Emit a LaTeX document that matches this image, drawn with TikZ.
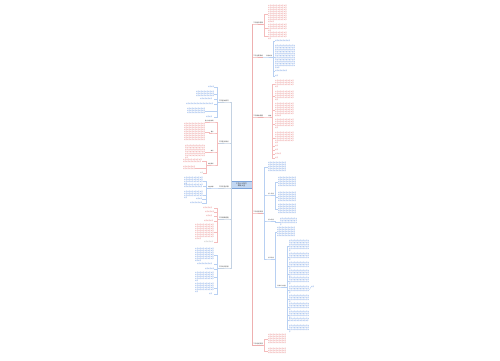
\documentclass[tikz,border=0pt]{standalone}
\usepackage{fontspec}
\setmainfont{Noto Sans CJK SC}
\XeTeXlinebreaklocale "zh"
\XeTeXlinebreakskip=0pt plus 0.5pt
\ExplSyntaxOn
\cs_new_eq:NN \myrep \prg_replicate:nn
\ExplSyntaxOff
\definecolor{txr}{HTML}{E06060}
\definecolor{txb}{HTML}{3C78D8}
\definecolor{txg}{HTML}{9A9A9A}
\definecolor{labc}{HTML}{3A3A3A}
\definecolor{lnr}{HTML}{F4BCBC}
\definecolor{lnb}{HTML}{B8D0F2}
\definecolor{trR}{HTML}{EEB0B0}
\definecolor{trL}{HTML}{C4D2E2}
\definecolor{cfill}{HTML}{C2D7F2}
\definecolor{cdraw}{HTML}{7BA3DA}
\tikzset{
  tb/.style={inner sep=0pt, anchor=north west, align=left, font=\fontsize{1.5}{2.0}\selectfont},
  rt/.style={text=txr}, bt/.style={text=txb}, gt/.style={text=txg},
  lab/.style={inner sep=0.2pt, font=\fontsize{1.6}{1.9}\selectfont, text=labc},
  slab/.style={inner sep=0.2pt, font=\fontsize{1.4}{1.7}\selectfont, text=labc},
  rl/.style={draw=lnr, line width=0.35pt},
  bl/.style={draw=lnb, line width=0.35pt},
  trr/.style={draw=trR, line width=0.45pt},
  trl/.style={draw=trL, line width=0.45pt},
  ctr/.style={draw=cdraw, fill=cfill, line width=0.3pt, minimum width=21pt, minimum height=7pt, inner sep=0.3pt, align=center, font=\fontsize{1.8}{2.2}\selectfont, text=labc}
}
\newcommand\tblk[6]{\node[tb,#6,text width=#4pt] (#1) at (#2,#3) {\myrep{(#4*#5-1)/3}{文字}};}
\newcommand\conR[3]{\draw[#1] (#2.south east) -- ++(1,0) |- (#3.west);}
\newcommand\conL[3]{\draw[#1] (#2.south west) -- ++(-1,0) |- (#3.east);}
\newcommand\conRL[3]{\draw[#1] (#2.south east) -- ++(1,0) |- (#3.south west) -- (#3.south east);}
\newcommand\conLL[3]{\draw[#1] (#2.south west) -- ++(-1,0) |- (#3.south east) -- (#3.south west);}
\begin{document}
\begin{tikzpicture}[x=1pt,y=-1pt]
\fill[white] (0,0) rectangle (500,360);
\path[use as bounding box] (0,0) rectangle (500,360);
% centre
\node[ctr] (c) at (241.5,184.5) {工作计划范文\\模板大全};
% right first-level labels
\node[lab,anchor=south west] (R1) at (253,24) {工作指导思想};
\node[lab,anchor=south west] (R2) at (253,57) {工作主要目标};
\node[lab,anchor=south west] (R3) at (253,117) {工作具体措施};
\node[lab,anchor=south west] (R4) at (253,213) {工作内容安排};
\node[lab,anchor=south west] (R5) at (253,345) {工作总结反思};
% left first-level labels
\node[lab,anchor=south east] (L1) at (229,102) {工作基本情况};
\node[lab,anchor=south east] (L2) at (229,143) {工作重点难点};
\node[lab,anchor=south east] (L3) at (229,188) {工作实施步骤};
\node[lab,anchor=south east] (L4) at (229,219) {工作保障措施};
\node[lab,anchor=south east] (L5) at (229,268) {工作时间安排};
% R1
\tblk{r1a}{268}{5}{19}{8}{rt}
\tblk{r1b}{268}{24}{19}{3}{rt}
\tblk{r1c}{268}{32}{19}{3}{rt}
% R2
\node[slab,anchor=south west] (R2a) at (266,57) {目标说明};
\tblk{r2a}{275}{40}{16}{1}{bt}
\tblk{r2b}{275}{45}{20}{11}{bt}
\tblk{r2c}{275}{70}{12}{1}{bt}
\tblk{r2d}{275}{75}{3}{1}{bt}
% R3
\node[slab,anchor=south west] (R3a) at (268,117) {措施};
\tblk{r3a}{275}{80}{19}{3}{rt}
\tblk{r3b}{275}{91}{19}{4}{rt}
\tblk{r3c}{275}{103}{19}{6}{rt}
\tblk{r3d}{275}{119}{19}{4}{rt}
\tblk{r3e}{275}{132}{19}{5}{rt}
\tblk{r3f}{275}{145}{4}{1}{rt}
\tblk{r3g}{275}{149}{4}{1}{rt}
\tblk{r3h}{275}{153}{6}{1}{rt}
\tblk{r3i}{275}{157}{4}{1}{rt}
% R4
\tblk{r4a}{268}{162}{18}{5}{bt}
\node[slab,anchor=south west] (S1) at (268,195) {第一阶段};
\tblk{s1a}{278}{177}{18}{5}{bt}
\tblk{s1b}{278}{192}{18}{5}{bt}
\tblk{s1c}{278}{204}{18}{5}{bt}
\node[slab,anchor=south west] (S2) at (268,221) {第二阶段};
\tblk{s2a}{280}{218}{17}{3}{bt}
\node[slab,anchor=south west] (S3) at (268,259) {第三阶段};
\tblk{s3b}{277}{227}{18}{5}{bt}
\node[slab,anchor=south west] (S4) at (277,287) {具体工作内容};
\tblk{s4a}{289}{240}{20}{5}{bt}
\tblk{s4b}{289}{253}{20}{3}{bt}
\tblk{s4c}{289}{262}{20}{3}{bt}
\tblk{s4d}{289}{270}{20}{3}{bt}
\tblk{s4e}{289}{277}{20}{3}{bt}
\tblk{s4f}{289}{286}{20}{3}{bt}
\tblk{s4g}{289}{295}{20}{3}{bt}
\tblk{s4h}{289}{303}{20}{3}{bt}
\tblk{s4i}{289}{311}{20}{3}{bt}
\tblk{s4j}{289}{318}{20}{2}{bt}
\tblk{s4k}{289}{325}{20}{3}{bt}
\tblk{s4x}{311}{286}{5}{1}{bt}
% R5
\tblk{r5a}{268}{334}{18}{5}{rt}
\tblk{r5b}{268}{348}{18}{3}{rt}
% L1
\tblk{l1a}{208}{86}{6}{1}{bt}
\tblk{l1b}{196}{91}{18}{3}{bt}
\tblk{l1c}{200}{98}{14}{1}{bt}
\tblk{l1d}{186}{103}{28}{1}{bt}
\tblk{l1e}{187}{108}{18}{3}{bt}
\tblk{l1f}{206}{116}{8}{1}{bt}
% L2
\node[slab,anchor=south east] (La) at (214,122) {重点内容说明};
\node[slab,anchor=south east] (Lb) at (214,133) {重点};
\node[slab,anchor=south east] (Lc) at (214,152) {难点};
\node[slab,anchor=south east] (Ld) at (214,165) {其他事项};
\tblk{l2b}{184}{123}{21}{9}{rt}
\tblk{l2c}{185}{145}{20}{6}{rt}
\tblk{l2d}{183}{159}{19}{2}{rt}
\tblk{l2e}{183}{166}{12}{2}{rt}
\tblk{l2f}{200}{172}{3}{1}{gt}
% L3
\node[slab,anchor=south east] (L3a) at (214,188) {实施步骤};
\tblk{l3a}{184}{177}{19}{3}{bt}
\tblk{l3b}{184}{184}{19}{2}{bt}
\tblk{l3c}{184}{191}{19}{3}{bt}
\tblk{l3d}{196}{198}{6}{1}{bt}
\tblk{l3e}{190}{202}{12}{1}{bt}
% L4
\tblk{l4a}{203}{207}{11}{1}{rt}
\tblk{l4b}{205}{211}{9}{1}{rt}
\tblk{l4c}{206}{215}{8}{1}{rt}
\tblk{l4d}{204}{220}{10}{1}{rt}
\tblk{l4e}{195}{224}{19}{7}{rt}
\tblk{l4f}{204}{241}{10}{1}{gt}
% L5
\tblk{l5a}{195}{248}{19}{6}{bt}
\tblk{l5b}{197}{263}{17}{1}{bt}
\tblk{l5c}{205}{268}{9}{1}{bt}
\tblk{l5d}{195}{272}{19}{4}{bt}
\tblk{l5e}{195}{283}{19}{4}{bt}
\tblk{l5f}{209}{293}{5}{1}{bt}
% ---------- connectors ----------
\foreach \n in {R1,R2,R3,R4,R5}{\draw[trr] (c.east) |- (\n.south west) -- (\n.south east);}
\foreach \n in {L1,L2,L3,L4,L5}{\draw[trl] (c.west) |- (\n.south east) -- (\n.south west);}
\foreach \k in {r1a,r1b,r1c}{\conR{rl}{R1}{\k}}
\draw[bl] (R2.south east) -- (R2a.south west) -- (R2a.south east);
\foreach \k in {r2a,r2b,r2c,r2d}{\conR{bl}{R2a}{\k}}
\draw[rl] (R3.south east) -- ++(1,0) |- (R3a.south west) -- (R3a.south east);
\foreach \k in {r3a,r3b,r3c,r3d,r3e,r3f,r3g,r3h,r3i}{\conR{rl}{R3a}{\k}}
\conR{bl}{R4}{r4a}
\foreach \k in {S1,S2,S3}{\conRL{bl}{R4}{\k}}
\foreach \k in {s1a,s1b,s1c}{\conR{bl}{S1}{\k}}
\conR{bl}{S2}{s2a}
\conR{bl}{S3}{s3b}
\conRL{bl}{S3}{S4}
\foreach \k in {s4a,s4b,s4c,s4d,s4e,s4f,s4g,s4h,s4i,s4j,s4k}{\conR{bl}{S4}{\k}}
\draw[bl] (s4f.east) -- (s4x.west);
\foreach \k in {r5a,r5b}{\conR{rl}{R5}{\k}}
\foreach \k in {l1a,l1b,l1c,l1d,l1e,l1f}{\conL{bl}{L1}{\k}}
\foreach \k in {La,Lb,Lc,Ld}{\conLL{rl}{L2}{\k}}
\conL{rl}{Lb}{l2b}
\conL{rl}{Lc}{l2c}
\foreach \k in {l2d,l2e,l2f}{\conL{rl}{Ld}{\k}}
\conLL{bl}{L3}{L3a}
\foreach \k in {l3a,l3b,l3c,l3d,l3e}{\conL{bl}{L3a}{\k}}
\foreach \k in {l4a,l4b,l4c,l4d,l4e,l4f}{\conL{rl}{L4}{\k}}
\foreach \k in {l5a,l5b,l5c,l5d,l5e,l5f}{\conL{bl}{L5}{\k}}
\end{tikzpicture}
\end{document}
